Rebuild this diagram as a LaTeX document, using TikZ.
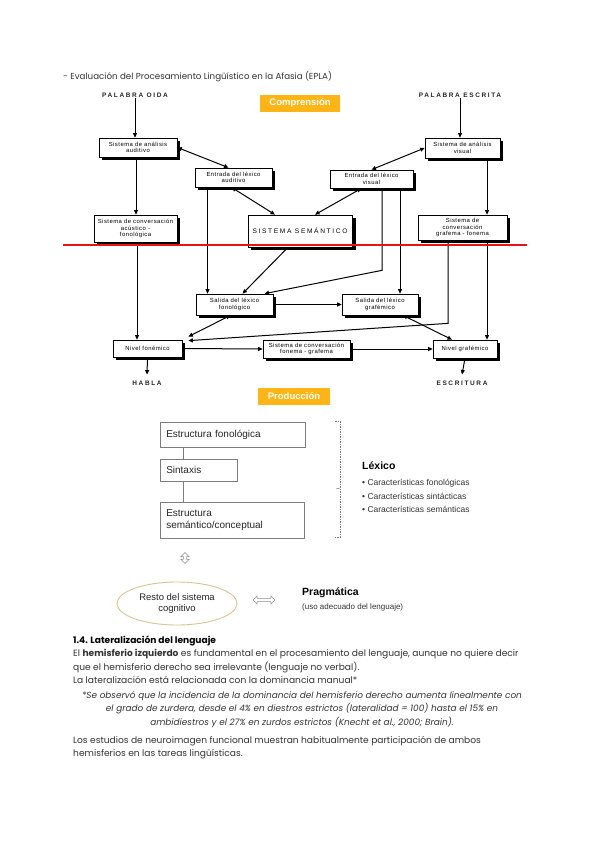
\documentclass[tikz,border=0pt]{standalone}
\usepackage{fontspec}
\setmainfont{Poppins}
\newfontfamily\arialf{Liberation Sans}
\newfontfamily\capsf[LetterSpace=25]{Liberation Sans}
\newfontfamily\scanf[LetterSpace=8]{Liberation Sans}
\usetikzlibrary{arrows.meta,shadows,shapes.arrows,shapes.geometric}
\definecolor{tagorange}{RGB}{252,181,20}
\definecolor{redline}{RGB}{232,20,20}
\definecolor{ovalline}{RGB}{214,196,146}
\definecolor{pgray}{RGB}{125,125,125}
\tikzset{
  scanbox/.style={draw,line width=0.7pt,fill=white,inner sep=1pt,align=center,
    font=\scanf\fontsize{5.9}{6.4}\selectfont,
    drop shadow={shadow xshift=3.2pt,shadow yshift=-3pt,fill=black,opacity=1}},
  word/.style={font=\capsf\bfseries\fontsize{6.5}{7}\selectfont,inner sep=0pt,text=black!85},
  tag/.style={fill=tagorange,text=white,inner sep=0pt,
    font=\arialf\bfseries\fontsize{9.5}{10}\selectfont},
  arr/.style={line width=1pt,-{Triangle[length=4.5pt,width=4pt]}},
  darr/.style={line width=1pt,{Triangle[length=4.5pt,width=4pt]}-{Triangle[length=4.5pt,width=4pt]}},
  pbox/.style={draw=pgray,line width=0.5pt,anchor=north west,align=left,inner xsep=6pt,
    font=\arialf\fontsize{10}{12}\selectfont,text=black!85},
  hollow/.style={double arrow,draw=black!45,fill=white,line width=0.4pt,inner sep=1.4pt,
    double arrow head extend=2.5pt},
  txtline/.style={anchor=west,inner sep=0pt,font=\fontsize{9.1}{11}\selectfont,text=black!80},
}
\begin{document}
\begin{tikzpicture}[x=1pt,y=-1pt]
\useasboundingbox[fill=white] (0,0) rectangle (599,848);

\node[txtline,font=\fontsize{8.7}{10}\selectfont] (title) at (63,77) {- Evaluación del Procesamiento Lingüístico en la Afasia (EPLA)};

% comprension
\node[tag,minimum width=80pt,minimum height=17pt] (compr) at (300,103.5) {Comprensión};
\node[word] (oida) at (135,95) {PALABRA OIDA};
\node[word] (oesc) at (460,95) {PALABRA ESCRITA};

\node[scanbox,minimum width=78pt,minimum height=19pt] (aud) at (138,147.5) {Sistema de análisis\\auditivo};
\node[scanbox,minimum width=77pt,minimum height=19pt] (lexaud) at (233.5,177.5) {Entrada del léxico\\auditivo};
\node[scanbox,minimum width=83pt,minimum height=27pt] (acfon) at (135.5,228.5) {Sistema de conversación\\acústico -\\fonológica};
\node[scanbox,minimum width=104pt,minimum height=32pt,font=\capsf\fontsize{6.6}{7}\selectfont,
  drop shadow={shadow xshift=3.6pt,shadow yshift=-3.4pt,fill=black,opacity=1}] (sem) at (300,231) {SISTEMA SEMÁNTICO};
\node[scanbox,minimum width=83pt,minimum height=18pt] (lexvis) at (371.5,179) {Entrada del léxico\\visual};
\node[scanbox,minimum width=75pt,minimum height=20pt] (vis) at (462.5,148) {Sistema de análisis\\visual};
\node[scanbox,minimum width=89pt,minimum height=25pt] (grafon) at (462.5,227.5) {Sistema de\\conversación\\grafema - fonema};
\node[scanbox,minimum width=77pt,minimum height=21pt] (salfon) at (234.5,304.5) {Salida del léxico\\fonológico};
\node[scanbox,minimum width=76pt,minimum height=21pt] (salgraf) at (380,304.5) {Salida del léxico\\grafémico};
\node[scanbox,minimum width=69pt,minimum height=17pt] (nivfon) at (147.5,348.5) {Nivel fonémico};
\node[scanbox,minimum width=87pt,minimum height=18pt] (fongraf) at (306.5,349) {Sistema de conversación\\fonema - grafema};
\node[scanbox,minimum width=64pt,minimum height=18pt] (nivgraf) at (465,349) {Nivel grafémico};
\node[word] (habla) at (147,383) {HABLA};
\node[word] (escr) at (462,383) {ESCRITURA};

\draw[arr] (oida.south) -- (oida.south |- aud.north);
\draw[arr] ([xshift=-2pt]aud.south) -- ([xshift=0.5pt]acfon.north);
\draw[arr] ([xshift=1.5pt]acfon.south) -- ([xshift=-10.5pt]nivfon.north);
\draw[darr] (aud.east) -- ([xshift=-5pt]lexaud.north);
\draw[darr] ([xshift=-2pt]lexaud.south) -- ([xshift=-25pt]sem.north);
\draw[arr] ([xshift=-26pt]lexaud.south) -- ([xshift=-27pt]salfon.north);
\draw[arr] ([xshift=-12pt]sem.south) -- ([xshift=8pt]salfon.north);
\draw[darr] ([xshift=-10pt]lexvis.south) -- ([xshift=15pt]sem.north);
\draw[darr] (vis.west) -- (lexvis.north);
\draw[arr] (oesc.south) -- (oesc.south |- vis.north);
\draw[arr] ([xshift=24.5pt]vis.south) -- ([xshift=24.5pt]grafon.north);
\draw[arr] ([xshift=28.5pt]lexvis.south) -- ([xshift=20pt]salgraf.north);
\draw[arr] ([xshift=10.5pt]lexvis.south) -- ++(0,82) -- ([xshift=30pt]salfon.north);
\draw[arr] ([xshift=-14.5pt]grafon.south) -- ++(0,83) -- ([xshift=6pt,yshift=-1pt]nivfon.north east);
\draw[darr] ([xshift=-4pt]salfon.south) -- ([xshift=6pt,yshift=3pt]nivfon.north east);
\draw[arr] (salfon.east) -- (salgraf.west);
\draw[darr] ([xshift=23pt]salgraf.south) -- ([xshift=-13pt]nivgraf.north);
\draw[arr] ([xshift=24.5pt]grafon.south) -- ([xshift=22pt]nivgraf.north);
\draw[arr] (nivfon.east) -- (fongraf.west);
\draw[arr] (fongraf.east) -- (nivgraf.west);
\draw[arr] (nivfon.south) -- ([yshift=6pt]habla.north);
\draw[arr] (nivgraf.south) -- ([yshift=6pt]escr.north);

\draw[redline,line width=2pt] (63,244.5) -- (527,244.5);

% produccion
\node[tag,minimum width=72pt,minimum height=17pt] (prod) at (294,396.5) {Producción};
\node[pbox,text width=133pt,minimum height=25pt] (fonol) at (160,422) {Estructura fonológica};
\node[pbox,text width=65pt,minimum height=22pt] (sint) at (160,459) {Sintaxis};
\node[pbox,text width=132pt,minimum height=36pt] (semcon) at (160,502) {Estructura\\semántico/conceptual};
\draw[pgray,line width=0.5pt] ([xshift=23pt]fonol.south west) -- ([xshift=23pt]sint.north west);
\draw[pgray,line width=0.5pt] ([xshift=23pt]sint.south west) -- ([xshift=23pt]semcon.north west);

\draw[pgray,line width=0.5pt,dash pattern=on 1.5pt off 1pt] (335,421) -- (340,421) -- (340,537) -- (335,537);
\draw[pgray,line width=0.5pt] (340,488) -- (336,489);

\node[anchor=west,inner sep=0pt,font=\arialf\bfseries\fontsize{10.5}{12}\selectfont] (lex) at (362,466) {Léxico};
\node[anchor=west,inner sep=0pt,font=\arialf\fontsize{8.5}{10}\selectfont,text=black!80] (c1) at (362,483) {• Características fonológicas};
\node[anchor=west,inner sep=0pt,font=\arialf\fontsize{8.5}{10}\selectfont,text=black!80] (c2) at (362,496.5) {• Características sintácticas};
\node[anchor=west,inner sep=0pt,font=\arialf\fontsize{8.5}{10}\selectfont,text=black!80] (c3) at (362,509) {• Características semánticas};

\node[hollow,shape border rotate=90,minimum height=11pt,minimum width=8pt] (updown) at (185,558) {};
\node[ellipse,draw=ovalline,line width=0.9pt,minimum width=120pt,minimum height=43pt,align=center,
  font=\arialf\fontsize{9.5}{11.5}\selectfont,text=black!85] (resto) at (177,603.5) {Resto del sistema\\cognitivo};
\node[hollow,minimum height=22pt,minimum width=8pt] (lr) at (264,600) {};
\node[anchor=west,inner sep=0pt,font=\arialf\bfseries\fontsize{10.5}{12}\selectfont] (prag) at (302,593) {Pragmática};
\node[anchor=west,inner sep=0pt,font=\arialf\fontsize{8}{10}\selectfont,text=black!80] (uso) at (302,607) {(uso adecuado del lenguaje)};

% texto
\node[txtline,font=\fontsize{9.1}{11}\selectfont\bfseries,text=black] (sec) at (73,641) {1.4. Lateralización del lenguaje};
\node[txtline] (l1) at (73,654) {El \textbf{hemisferio izquierdo} es fundamental en el procesamiento del lenguaje, aunque no quiere decir};
\node[txtline] (l2) at (73,667) {que el hemisferio derecho sea irrelevante (lenguaje no verbal).};
\node[txtline] (l3) at (73,680) {La lateralización está relacionada con la dominancia manual*};
\node[txtline,anchor=center,font=\fontsize{8.9}{11}\selectfont\itshape] (n1) at (302,696) {*Se observó que la incidencia de la dominancia del hemisferio derecho aumenta linealmente con};
\node[txtline,anchor=center,font=\fontsize{8.9}{11}\selectfont\itshape] (n2) at (302,709) {el grado de zurdera, desde el 4\% en diestros estrictos (lateralidad = 100) hasta el 15\% en};
\node[txtline,anchor=center,font=\fontsize{8.9}{11}\selectfont\itshape] (n3) at (302,722) {ambidiestros y el 27\% en zurdos estrictos (Knecht et al., 2000; Brain).};
\node[txtline] (l4) at (73,741) {Los estudios de neuroimagen funcional muestran habitualmente participación de ambos};
\node[txtline] (l5) at (73,754) {hemisferios en las tareas lingüísticas.};
\end{tikzpicture}
\end{document}
